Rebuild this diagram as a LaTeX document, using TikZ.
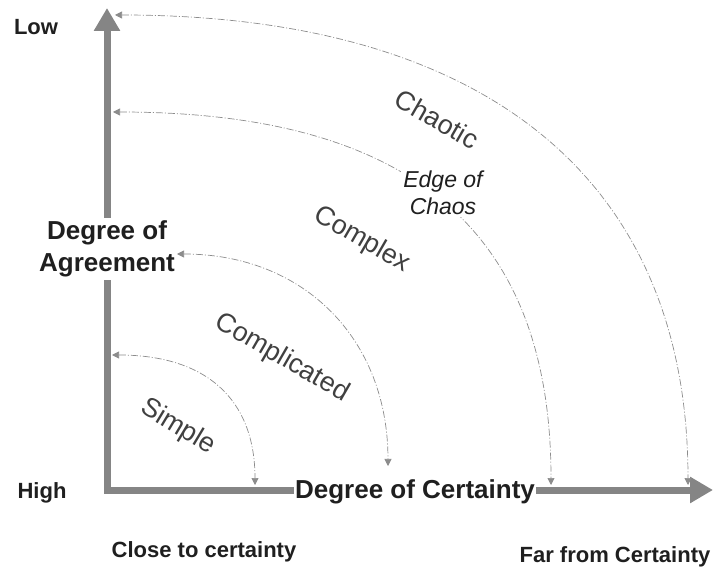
\documentclass[tikz,border=0pt]{standalone}
\usepackage{fontspec}
\setmainfont{Liberation Sans}
\usetikzlibrary{arrows.meta}

\begin{document}
\begin{tikzpicture}[x=1pt,y=1pt,
  every node/.style={text=black!88},
  axis/.style={line width=7pt,draw=black!48,line join=miter,{Triangle[length=23pt,width=25pt]}-{Triangle[length=23pt,width=25pt]}},
  ttl/.style={font=\fontsize{26}{32}\selectfont\bfseries,fill=white,align=center,inner xsep=1pt,inner ysep=3pt},
  endlab/.style={font=\fontsize{22}{26}\selectfont\bfseries,anchor=base},
  zone/.style={font=\fontsize{27}{32}\selectfont,text=black!75,rotate=-30},
  ar/.style={draw=black!45,line width=0.7pt,dash pattern=on 7pt off 2pt on 1pt off 2pt,{Triangle[length=7pt,width=7pt]}-{Triangle[length=7pt,width=7pt]}}]
\useasboundingbox (0,0) rectangle (715,568);
% axes
\coordinate (corner) at (107,78);
\coordinate (ytip) at (107,560);
\coordinate (xtip) at (713,78);
\draw[axis] (ytip) -- (corner) -- (xtip);
\node[ttl] (agree) at (107,319) {Degree of\\Agreement};
\node[ttl,anchor=base] (cert) at (415,70) {Degree of Certainty};
% arc end points
\coordinate (s1) at (112,213); \coordinate (e1) at (255,83);
\coordinate (s2) at (177,314); \coordinate (e2) at (388,102);
\coordinate (s3) at (113,456); \coordinate (e3) at (551,83);
\coordinate (s4) at (115,553); \coordinate (e4) at (688,83);
\draw[ar] (s1) .. controls (206,213) and (255,169) .. (e1);
\draw[ar] (s2) .. controls (304,314) and (388,229) .. (e2);
\draw[ar] (s3) .. controls (411,456) and (551,337) .. (e3);
\draw[ar] (s4) .. controls (487,553) and (688,388) .. (e4);
\node[fill=white,align=center,inner sep=2pt,font=\fontsize{23}{27}\selectfont\itshape] (edge) at (443,375) {Edge of\\Chaos};
% zones
\node[zone,rotate=-1] (simple) at (178,141) {Simple};
\node[zone] (compd) at (282,210) {Complicated};
\node[zone] (cplx) at (362,328) {Complex};
\node[zone] (chaos) at (437,449) {Chaotic};
% axis ends
\node[endlab] (low) at (36,533) {Low};
\node[endlab] (high) at (42,70) {High};
\node[endlab] (close) at (204,11) {Close to certainty};
\node[endlab] (far) at (615,6) {Far from Certainty};
\end{tikzpicture}
\end{document}
